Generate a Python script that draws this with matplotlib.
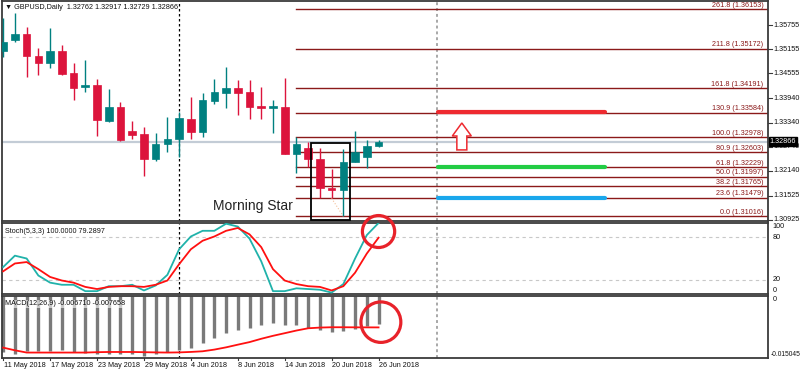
import matplotlib
matplotlib.use("Agg")
import matplotlib.pyplot as plt
from matplotlib.patches import Rectangle, Ellipse, FancyArrow
import matplotlib.transforms as mtransforms

plt.rcParams['font.family'] = ['Liberation Sans', 'DejaVu Sans']

# GBPUSD daily candles, 11 May 2018 .. 26 Jun 2018
opens = [1.35119, 1.35383, 1.35525, 1.34987, 1.34821, 1.35119, 1.34574, 1.34212,
         1.34261, 1.33377, 1.33731, 1.33129, 1.33048, 1.32428, 1.32807, 1.32931,
         1.33419, 1.33112, 1.33873, 1.34078, 1.34202, 1.34088, 1.33749, 1.33692,
         1.33731, 1.32560, 1.32701, 1.32428, 1.31725, 1.31668, 1.32354, 1.32493,
         1.32762]
highs = [1.35928, 1.36060, 1.35713, 1.35193, 1.35673, 1.35260, 1.34821, 1.34888,
         1.34418, 1.34170, 1.33855, 1.33377, 1.33236, 1.33072, 1.33484, 1.33608,
         1.33979, 1.34063, 1.34418, 1.34722, 1.34393, 1.34393, 1.34227, 1.33897,
         1.34450, 1.32988, 1.32864, 1.32716, 1.32181, 1.32676, 1.33129, 1.32907,
         1.32917]
lows = [1.34962, 1.35341, 1.34474, 1.34517, 1.34697, 1.34517, 1.33897, 1.34103,
        1.33006, 1.33345, 1.32889, 1.32924, 1.32022, 1.32394, 1.32617, 1.32493,
        1.32924, 1.32988, 1.33791, 1.33692, 1.33526, 1.33419, 1.33419, 1.33072,
        1.32552, 1.32101, 1.32245, 1.31477, 1.31462, 1.31016, 1.32354, 1.32205,
        1.32729]
closes = [1.35341, 1.35532, 1.34995, 1.34821, 1.35111, 1.34549, 1.34202, 1.34269,
          1.33402, 1.33731, 1.32907, 1.33038, 1.32436, 1.32807, 1.32924, 1.33459,
          1.33112, 1.33897, 1.34103, 1.34202, 1.34078, 1.33731, 1.33692, 1.33749,
          1.32560, 1.32800, 1.32428, 1.31710, 1.31668, 1.32369, 1.32602, 1.32758,
          1.32866]

stoch_k = [38, 54, 50, 26, 16, 13, 13, 4, 4, 11, 11, 13, 5, 12, 27, 63,
           81, 89, 89, 99, 95, 78, 46, 4, 4, 8, 7, 6, 2, 14, 50, 83, 100]
stoch_d = [32, 43, 45, 35, 24, 19, 16, 10, 7, 10, 11, 11, 10, 13, 19, 42,
           63, 75, 81, 89, 93, 84, 66, 35, 19, 14, 11, 10, 5, 11, 30, 57, 79.29]

macd_main = [-0.01372, -0.01403, -0.01341, -0.01341, -0.01341, -0.01324, -0.01355,
             -0.01379, -0.01403, -0.01420, -0.01403, -0.01420, -0.01461, -0.01420,
             -0.01355, -0.01324, -0.01264, -0.01143, -0.01023, -0.00903, -0.00835,
             -0.00775, -0.00715, -0.00662, -0.00712, -0.00712, -0.00782, -0.00823,
             -0.00871, -0.00854, -0.00809, -0.00734, -0.00671]
macd_signal = [-0.01259, -0.01324, -0.01379, -0.01379, -0.01379, -0.01379, -0.01379,
               -0.01379, -0.01370, -0.01365, -0.01365, -0.01365, -0.01370, -0.01375,
               -0.01379, -0.01375, -0.01364, -0.01348, -0.01307, -0.01252, -0.01187,
               -0.01124, -0.01043, -0.00971, -0.00907, -0.00842, -0.00787, -0.00770,
               -0.00762, -0.00762, -0.00764, -0.00765, -0.007658]

date_bars = [0, 4, 8, 12, 16, 20, 24, 28, 32]
date_labels = ['11 May 2018', '17 May 2018', '23 May 2018', '29 May 2018', '4 Jun 2018',
               '8 Jun 2018', '14 Jun 2018', '20 Jun 2018', '26 Jun 2018']

price_ticks = [1.35755, 1.35155, 1.34555, 1.33940, 1.33340, 1.32740, 1.32140, 1.31525, 1.30925]

fib_pct = ['0.0', '23.6', '38.2', '50.0', '61.8', '80.9', '100.0', '130.9', '161.8', '211.8', '261.8']
fib_price = [1.31016, 1.31479, 1.31765, 1.31997, 1.32229, 1.32603, 1.32978, 1.33584,
             1.34191, 1.35172, 1.36153]

target_levels = [1.33608, 1.32229, 1.31479]
target_colors = ['#ee2a30', '#22cc44', '#1aa7ec']

bid = 1.32866
n = len(closes)
up_col = '#008080'
dn_col = '#dc143c'
fib_col = '#8b1a1a'
axis_col = '#3a3a3a'

fig = plt.figure(figsize=(8, 3.74), dpi=100)
W, H = 800, 374
def box(x0, y0, x1, y1):
    return [x0 / W, 1 - y1 / H, (x1 - x0) / W, (y1 - y0) / H]

ax = fig.add_axes(box(2, 1, 768, 221))
ax_st = fig.add_axes(box(2, 223, 768, 294), sharex=ax)
ax_m = fig.add_axes(box(2, 296, 768, 357.7), sharex=ax)

xmin, xmax = -0.1, 65.2
for a in (ax, ax_st, ax_m):
    a.set_xlim(xmin, xmax)
    a.set_xticks([])
    a.set_yticks([])
    for s in a.spines.values():
        s.set_color(axis_col)
        s.set_linewidth(1.3)
    a.set_facecolor('white')

ax.set_ylim(1.30900, 1.36350)
ax_st.set_ylim(0, 100)
ax_m.set_ylim(-0.015045, 0)

# bid line
ax.axhline(bid, color='#c3ccd6', lw=1.6, zorder=1)

# candles
bw = 0.65
for i in range(n):
    o, h, l, c = opens[i], highs[i], lows[i], closes[i]
    col = up_col if c >= o else dn_col
    ax.vlines(i, l, h, color=col, lw=1, zorder=3)
    lo, hi = min(o, c), max(o, c)
    if hi - lo < 0.00012:
        hi = lo + 0.00012
    ax.add_patch(Rectangle((i - bw / 2, lo), bw, hi - lo, facecolor=col,
                           edgecolor=col, lw=0.5, zorder=4))

# fibonacci expansion
for p, lv in zip(fib_pct, fib_price):
    ax.plot([25, xmax], [lv, lv], color=fib_col, lw=1, zorder=2)
    ax.text(64.8, lv + 0.00008, f'{p} ({lv:.5f})', color=fib_col, fontsize=5.2,
            ha='right', va='bottom', zorder=5)

# target lines
for lv, col in zip(target_levels, target_colors):
    ax.plot([37.05, 51.3], [lv, lv], color=col, lw=3, solid_capstyle='round', zorder=5)

ax.add_patch(FancyArrow(39.1, 1.32661, 0, 0.00667, width=0.85, head_width=1.62,
                        head_length=0.00322, length_includes_head=True,
                        facecolor='white', edgecolor='#ee2a30', lw=1.1, zorder=6))

# morning star box
ax.add_patch(Rectangle((26.25, 1.30930), 3.35, 1.32840 - 1.30930, fill=False,
                       edgecolor='black', lw=1.3, zorder=6))
ax.plot([28, 29], [lows[28], lows[29]], color='#f3c09a', lw=0.8, ls=':', zorder=2)
ax.text(17.85, 1.31272, 'Morning Star', fontsize=10, color='#222222', ha='left', va='center')

# header
ax.text(0.004, 0.985, '\u25bc GBPUSD,Daily  1.32762 1.32917 1.32729 1.32866',
        transform=ax.transAxes, fontsize=5.2, color='#111111', ha='left', va='top')

# stochastic
xs = list(range(n))
ax_st.axhline(80, color='#c8c8c8', lw=0.8, ls=(0, (3, 3)))
ax_st.axhline(20, color='#c8c8c8', lw=0.8, ls=(0, (3, 3)))
ax_st.plot(xs, stoch_k, color='#20b2aa', lw=1.3, zorder=3)
ax_st.plot(xs, stoch_d, color='#ff1010', lw=1.3, zorder=4)
ax_st.text(0.004, 0.93, 'Stoch(5,3,3) 100.0000 79.2897', transform=ax_st.transAxes,
           fontsize=5.2, color='#111111', ha='left', va='top')

# macd
ax_m.vlines(xs, macd_main, 0, color='#7a7a7a', lw=2.4, zorder=2)
ax_m.plot(xs, macd_signal, color='#ff1010', lw=1.3, zorder=3)
ax_m.text(0.004, 0.93, 'MACD(12,26,9) -0.006710 -0.007658', transform=ax_m.transAxes,
          fontsize=5.2, color='#111111', ha='left', va='top', zorder=5,
          bbox=dict(facecolor='white', edgecolor='none', pad=0.3, alpha=0.6))

# separators spanning all panels
for a in (ax, ax_st, ax_m):
    a.axvline(15, color='black', lw=0.9, ls=(0, (2, 2)), zorder=1)
    a.axvline(37, color='#a8a8a8', lw=1.4, ls=(0, (1.5, 1.5)), zorder=1)

# red circles
ax_st.add_patch(Ellipse((32, 88), 2.75, 45, fill=False, edgecolor='#e8222a', lw=2.3,
                        clip_on=False, zorder=10))
ax_m.add_patch(Ellipse((32.2, -0.00638), 3.4, 0.00987, fill=False, edgecolor='#e8222a',
                       lw=2.3, clip_on=False, zorder=10))

# right price scale
tr = mtransforms.blended_transform_factory(ax.transAxes, ax.transData)
for t in price_ticks:
    ax.plot([1.0, 1.005], [t, t], transform=tr, color=axis_col, lw=0.8, clip_on=False)
    ax.text(1.007, t, f'{t:.5f}', transform=tr, fontsize=5.2, color='#111111',
            ha='left', va='center')
ax.text(1.002, bid, f'{bid:.5f}', transform=tr, fontsize=5.2, color='white',
        ha='left', va='center', zorder=12,
        bbox=dict(facecolor='black', edgecolor='black', pad=0.6))

trs = mtransforms.blended_transform_factory(ax_st.transAxes, ax_st.transData)
for v, va in [(100, 'top'), (80, 'center'), (20, 'center'), (0, 'bottom')]:
    ax_st.text(1.006, v, str(v), transform=trs, fontsize=5.2, color='#111111',
               ha='left', va=va)

trm = mtransforms.blended_transform_factory(ax_m.transAxes, ax_m.transData)
ax_m.text(1.006, 0, '0', transform=trm, fontsize=5.2, color='#111111', ha='left', va='top')
ax_m.text(1.003, -0.015045, '-0.015045', transform=trm, fontsize=4.8, color='#111111',
          ha='left', va='bottom')

# date axis
trd = mtransforms.blended_transform_factory(ax_m.transData, ax_m.transAxes)
for b, lab in zip(date_bars, date_labels):
    ax_m.plot([b, b], [0, -0.04], transform=trd, color=axis_col, lw=0.8, clip_on=False)
    ax_m.text(b + 0.05, -0.13, lab, transform=trd, fontsize=5.2, color='#111111',
              ha='left', va='center')

fig.savefig('out.png', dpi=100, facecolor='white')
